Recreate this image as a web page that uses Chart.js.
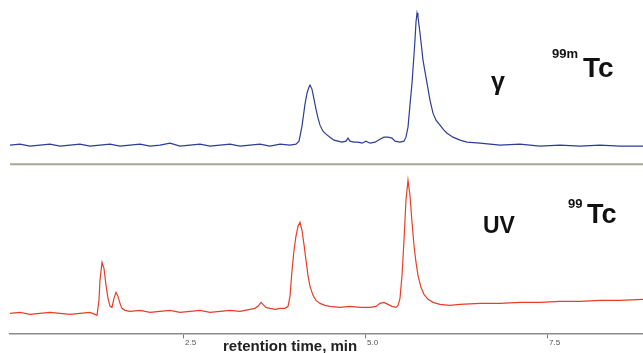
<!DOCTYPE html>
<html>
<head>
<meta charset="utf-8">
<script src="https://cdn.jsdelivr.net/npm/chart.js@4"></script>
<style>
  html, body { margin: 0; padding: 0; background: #fff; }
  #wrap { width: 643px; height: 353px; position: relative; }
</style>
</head>
<body>
<div id="wrap"><canvas id="chromChart"></canvas></div>
<script>
// retention time (min) and signal above baseline
const gammaTime = [0.110, 0.247, 0.385, 0.522, 0.659, 0.797, 0.934, 1.071, 1.209, 1.346,
  1.484, 1.621, 1.758, 1.896, 2.033, 2.170, 2.308, 2.445, 2.582, 2.720,
  2.857, 2.995, 3.132, 3.269, 3.407, 3.544, 3.681, 3.819, 3.956, 4.038,
  4.080, 4.121, 4.162, 4.190, 4.217, 4.231, 4.258, 4.286, 4.313, 4.341,
  4.368, 4.409, 4.451, 4.505, 4.560, 4.615, 4.670, 4.725, 4.753, 4.780,
  4.835, 4.890, 4.945, 5.000, 5.055, 5.124, 5.192, 5.247, 5.302, 5.357,
  5.398, 5.467, 5.522, 5.549, 5.577, 5.604, 5.632, 5.659, 5.673, 5.687,
  5.701, 5.714, 5.742, 5.783, 5.838, 5.879, 5.920, 5.962, 6.016, 6.071,
  6.113, 6.195, 6.291, 6.387, 6.566, 6.703, 6.841, 7.115, 7.390, 7.665,
  7.940, 8.214, 8.489, 8.805];
const gammaSignal = [0, 1, -1, 0, 1, -1, 0, 1, -1, 0,
  1, -1, 0, 1, -1, 0, 2, -1, 0, 1,
  -1, 0, 1, -1, 0, 1, -1, 1, 0, 1,
  4, 19, 41, 52, 58, 60, 56, 46, 36, 27,
  20, 14, 11, 8, 5, 4, 3, 4, 7, 4,
  3, 3, 2, 4, 2, 3, 6, 8, 8, 7,
  4, 3, 4, 8, 18, 40, 62, 90, 105, 123,
  132, 128, 112, 85, 62, 45, 32, 25, 20, 15,
  12, 8, 5, 3, 2, 1, 0, 1, -1, 0,
  -1, 0, -1, -1];

const uvTime = [0.110, 0.247, 0.385, 0.522, 0.659, 0.797, 0.934, 1.071, 1.209, 1.277,
  1.305, 1.332, 1.346, 1.374, 1.401, 1.429, 1.456, 1.484, 1.511, 1.538,
  1.566, 1.593, 1.621, 1.648, 1.690, 1.758, 1.896, 2.033, 2.170, 2.308,
  2.445, 2.582, 2.720, 2.857, 2.995, 3.132, 3.269, 3.407, 3.475, 3.516,
  3.558, 3.585, 3.626, 3.681, 3.750, 3.819, 3.887, 3.929, 3.956, 3.984,
  4.011, 4.038, 4.066, 4.093, 4.121, 4.148, 4.176, 4.203, 4.231, 4.272,
  4.313, 4.368, 4.437, 4.505, 4.643, 4.780, 4.918, 5.055, 5.137, 5.192,
  5.247, 5.302, 5.357, 5.412, 5.440, 5.467, 5.495, 5.522, 5.549, 5.577,
  5.604, 5.632, 5.659, 5.687, 5.714, 5.755, 5.797, 5.852, 5.920, 6.016,
  6.154, 6.291, 6.566, 6.841, 7.115, 7.390, 7.665, 7.940, 8.214, 8.489,
  8.805];
const uvSignal = [0, 1, -1, 0, 1, 0, -1, 0, 1, -1,
  -2, 13, 33, 51, 45, 28, 15, 7, 6, 15,
  21, 17, 10, 5, 3, 2, 3, 1, 2, 3,
  1, 2, 3, 1, 2, 3, 2, 4, 5, 7,
  11, 9, 6, 5, 4, 5, 5, 7, 17, 43,
  63, 77, 87, 91, 83, 69, 53, 38, 27, 18,
  13, 10, 8, 7, 6, 7, 6, 6, 7, 10,
  11, 9, 7, 6, 8, 15, 38, 73, 113, 133,
  118, 91, 68, 51, 38, 26, 19, 14, 11, 9,
  8, 9, 10, 10, 11, 11, 12, 12, 13, 13,
  14];

const xTicks = [2.5, 5.0, 7.5];

const X_MIN = 0.11;
const X_MAX = 8.805;
const GAMMA_BASE = 188;
const UV_BASE = 20;
const DIVIDER = 169;

const gammaPoints = gammaTime.map((t, i) => ({ x: t, y: GAMMA_BASE + gammaSignal[i] }));
const uvPoints = uvTime.map((t, i) => ({ x: t, y: UV_BASE + uvSignal[i] }));

// labels: gamma / UV and isotopes, plus the axis title
const labelsPlugin = {
  id: 'chromLabels',
  afterDraw(chart) {
    const ctx = chart.ctx;
    ctx.save();
    ctx.fillStyle = '#111';
    ctx.textAlign = 'left';
    ctx.textBaseline = 'alphabetic';
    const fam = '"Liberation Sans", Arial, sans-serif';

    ctx.font = 'bold 25px ' + fam;
    ctx.fillText('γ', 491, 90);

    ctx.font = 'bold 13px ' + fam;
    ctx.fillText('99m', 552, 58);
    ctx.font = 'bold 28px ' + fam;
    ctx.fillText('Tc', 583, 77);

    ctx.font = 'bold 23px ' + fam;
    ctx.fillText('UV', 483, 233);

    ctx.font = 'bold 13px ' + fam;
    ctx.fillText('99', 568, 208);
    ctx.font = 'bold 27px ' + fam;
    ctx.fillText('Tc', 587, 223);

    ctx.fillStyle = '#222';
    ctx.font = 'bold 15px ' + fam;
    ctx.fillText('retention time, min', 223, 351);
    ctx.restore();
  }
};

new Chart(document.getElementById('chromChart'), {
  type: 'line',
  data: {
    datasets: [
      {
        label: 'divider',
        data: [{ x: X_MIN, y: DIVIDER }, { x: X_MAX, y: DIVIDER }],
        borderColor: '#a2a996',
        borderWidth: 2,
        pointRadius: 0
      },
      {
        label: 'gamma',
        data: gammaPoints,
        borderColor: 'rgb(45, 60, 150)',
        borderWidth: 1.2,
        pointRadius: 0,
        tension: 0
      },
      {
        label: 'UV',
        data: uvPoints,
        borderColor: 'rgb(232, 62, 40)',
        borderWidth: 1.2,
        pointRadius: 0,
        tension: 0
      }
    ]
  },
  options: {
    responsive: true,
    maintainAspectRatio: false,
    animation: false,
    layout: { padding: { left: 10, right: 0, top: 0, bottom: 5 } },
    plugins: {
      legend: { display: false },
      tooltip: { enabled: false }
    },
    scales: {
      x: {
        type: 'linear',
        min: X_MIN,
        max: X_MAX,
        afterBuildTicks: (scale) => { scale.ticks = xTicks.map(v => ({ value: v })); },
        border: { display: true, color: '#8c8c8c', width: 1.5 },
        grid: { display: true, drawOnChartArea: false, drawTicks: true, tickLength: 5, color: '#777' },
        ticks: {
          align: 'start',
          padding: 0,
          labelOffset: 1,
          maxRotation: 0,
          color: '#555',
          font: { family: '"Liberation Sans", Arial, sans-serif', size: 8 },
          callback: (v) => Number(v).toFixed(1)
        }
      },
      y: {
        display: false,
        min: 0,
        max: 333
      }
    }
  },
  plugins: [labelsPlugin]
});
</script>
</body>
</html>
